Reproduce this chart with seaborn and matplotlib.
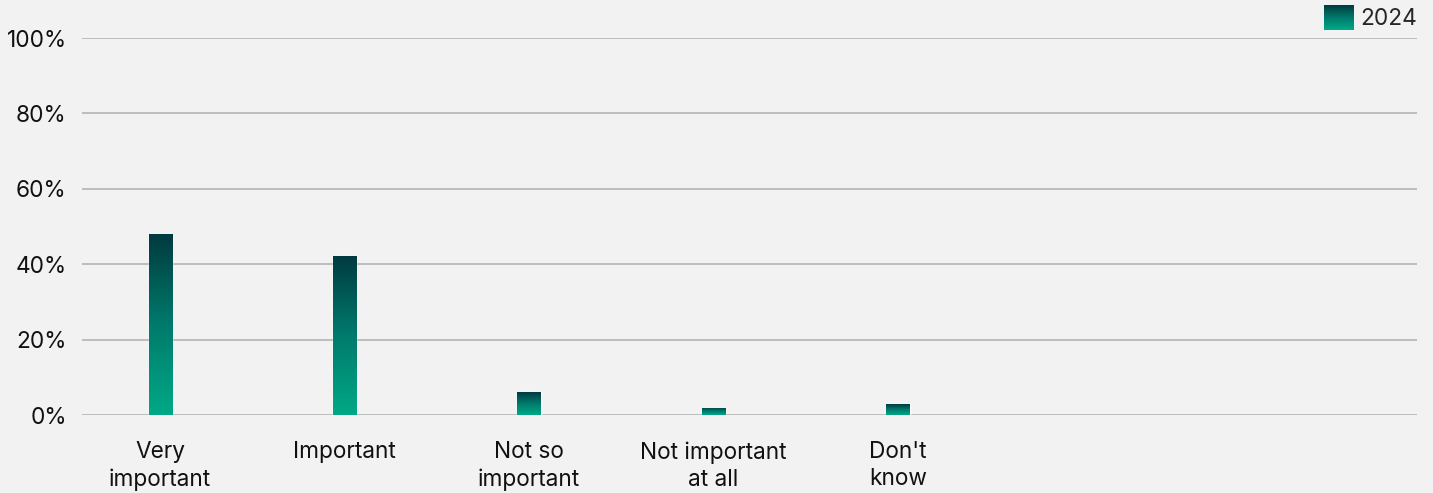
import numpy as np
import pandas as pd
import seaborn as sns
import matplotlib.pyplot as plt
from matplotlib.colors import LinearSegmentedColormap
from matplotlib.legend_handler import HandlerBase
from matplotlib.image import BboxImage
from matplotlib.transforms import Bbox, TransformedBbox
from matplotlib.ticker import FuncFormatter

# data
categories = ['Very\nimportant', 'Important', 'Not so\nimportant', 'Not important\nat all', "Don't\nknow"]
values_2024 = [48.0, 42.2, 6.1, 1.9, 2.9]
series_name = '2024'

bg = '#f2f2f2'
grad = LinearSegmentedColormap.from_list('tealgrad', ['#00a986', '#007a6c', '#013a40'])

sns.set_theme(style='white')
plt.rcParams['font.family'] = ['Inter', 'DejaVu Sans']
fs = 16.3

df = pd.DataFrame({'category': categories, 'value': values_2024})

fig = plt.figure(figsize=(14.33, 4.93), dpi=100, facecolor=bg)
ax = fig.add_axes([82 / 1433, 78 / 493, (1417 - 82) / 1433, (415 - 38) / 493])
ax.set_facecolor(bg)

sns.barplot(data=df, x='category', y='value', width=0.125, color='#00a986', ax=ax, zorder=3)

# vertical gradient inside every bar
gimg = np.linspace(0, 1, 256).reshape(-1, 1)
for p in ax.patches:
    x0, y0 = p.get_x(), p.get_y()
    w, h = p.get_width(), p.get_height()
    im = ax.imshow(gimg, cmap=grad, origin='lower', aspect='auto',
                   extent=[x0, x0 + w, y0, y0 + h], zorder=4)
    im.set_clip_path(p)
ax.set_xlim(-0.423, 6.813)
ax.set_ylim(0, 100)

ax.set_yticks(range(0, 101, 20))
ax.yaxis.set_major_formatter(FuncFormatter(lambda v, _: f'{v:.0f}%'))
ax.grid(axis='y', color='#b4b4b4', linewidth=1.2, zorder=0)
ax.set_axisbelow(True)
for s in ax.spines.values():
    s.set_visible(False)
ax.tick_params(axis='y', length=0, pad=11, labelsize=fs, labelcolor='#111111')
ax.tick_params(axis='x', length=0, pad=19, labelsize=fs, labelcolor='#111111')
for t in ax.get_xticklabels():
    t.set_linespacing(1.3)
ax.set_xlabel('')
ax.set_ylabel('')


class GradientHandler(HandlerBase):
    def create_artists(self, legend, orig_handle, xdescent, ydescent, width, height, fontsize, trans):
        bb = TransformedBbox(Bbox.from_bounds(-xdescent, -ydescent, width, height), trans)
        img = BboxImage(bb, cmap=grad, origin='lower')
        img.set_data(gimg)
        return [img]


handle = plt.Rectangle((0, 0), 1, 1)
fig.legend([handle], [series_name], handler_map={plt.Rectangle: GradientHandler()},
           loc='upper right', bbox_to_anchor=(1417 / 1433, 1 - 5 / 493), frameon=False,
           borderpad=0, borderaxespad=0, handlelength=1.3, handleheight=1.3,
           handletextpad=0.3, fontsize=fs)

fig.savefig('out.png', dpi=100, facecolor=bg)
